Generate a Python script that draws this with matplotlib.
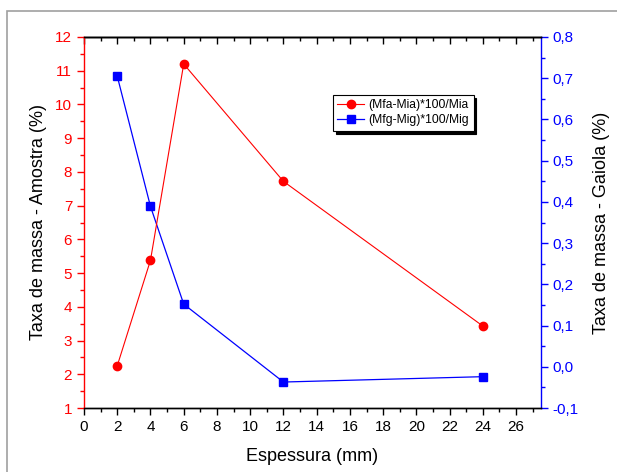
import matplotlib
matplotlib.use("Agg")
import matplotlib.pyplot as plt
from matplotlib.patches import Rectangle
from matplotlib.ticker import MultipleLocator, FuncFormatter

plt.rcParams['font.family'] = ['Liberation Sans', 'DejaVu Sans']

espessura = [2, 4, 6, 12, 24]
amostra = [2.25, 5.38, 11.2, 7.72, 3.43]
gaiola = [0.705, 0.389, 0.152, -0.037, -0.024]
label_a = "(Mfa-Mia)*100/Mia"
label_g = "(Mfg-Mig)*100/Mig"

fig = plt.figure(figsize=(6.17, 4.72), dpi=100)
fig.patches.append(Rectangle((7/617, -0.1), 1.2, 1 - 11/472 + 0.1, transform=fig.transFigure,
                             fill=False, edgecolor='#a0a0a0', linewidth=1.2))
ax = fig.add_axes([84/617, 64/472, 457/617, 371/472])
ax2 = ax.twinx()

red = '#ff0000'
blue = '#0000ff'
l1, = ax.plot(espessura, amostra, color=red, lw=0.8, marker='o', ms=6, label=label_a)
l2, = ax2.plot(espessura, gaiola, color=blue, lw=0.9, marker='s', ms=5.5, label=label_g)

ax.set_xlim(0, 27.5)
ax.set_ylim(1, 12)
ax2.set_ylim(-0.1, 0.8)

ax.xaxis.set_major_locator(MultipleLocator(2))
ax.xaxis.set_minor_locator(MultipleLocator(1))
ax.yaxis.set_major_locator(MultipleLocator(1))
ax.yaxis.set_minor_locator(MultipleLocator(0.5))
ax2.yaxis.set_major_locator(MultipleLocator(0.1))
ax2.yaxis.set_minor_locator(MultipleLocator(0.05))
ax2.yaxis.set_major_formatter(FuncFormatter(lambda v, p: f"{v:.1f}".replace('.', ',').replace('-0,0', '0,0')))

ax.tick_params(axis='x', which='both', direction='out', top=False, colors='black', labelsize=11, width=1)
ax.tick_params(axis='x', which='major', length=5)
ax.tick_params(axis='x', which='minor', length=3)
ax.tick_params(axis='y', which='both', colors=red, labelsize=11, width=1)
ax.tick_params(axis='y', which='major', length=5)
ax.tick_params(axis='y', which='minor', length=3)
ax2.tick_params(axis='y', which='both', colors=blue, labelsize=11, width=1)
ax2.tick_params(axis='y', which='major', length=5)
ax2.tick_params(axis='y', which='minor', length=3)

# top axis: inward ticks, no labels
top = ax.secondary_xaxis('top')
top.xaxis.set_major_locator(MultipleLocator(2))
top.xaxis.set_minor_locator(MultipleLocator(1))
top.tick_params(axis='x', which='both', direction='in', labeltop=False, colors='black', width=1)
top.tick_params(axis='x', which='major', length=5)
top.tick_params(axis='x', which='minor', length=3)
top.spines['top'].set_linewidth(1)

ax.spines['left'].set_color(red)
ax2.spines['left'].set_visible(False)
ax2.spines['right'].set_color(blue)
ax.spines['right'].set_visible(False)
ax2.spines['top'].set_color('black')
ax2.spines['bottom'].set_color('black')
for s in ax2.spines.values():
    s.set_linewidth(1)
for s in ax.spines.values():
    s.set_linewidth(1)

ax.set_xlabel("Espessura (mm)", fontsize=13, labelpad=10)
ax.set_ylabel("Taxa de massa - Amostra (%)", fontsize=13, labelpad=6)
ax2.set_ylabel("Taxa de massa - Gaiola (%)", fontsize=13, labelpad=10)

leg = ax.legend(handles=[l1, l2], loc='upper left', bbox_to_anchor=(0.545, 0.843),
                fontsize=8.7, frameon=True, fancybox=False, shadow={'color': 'black', 'alpha': 1},
                edgecolor='black', handlelength=2.2, borderpad=0.35, labelspacing=0.25,
                handletextpad=0.4, borderaxespad=0)
leg.get_frame().set_linewidth(0.8)
ax.set_zorder(ax2.get_zorder() + 1)
ax.patch.set_visible(False)

fig.savefig("out.png", dpi=100)
